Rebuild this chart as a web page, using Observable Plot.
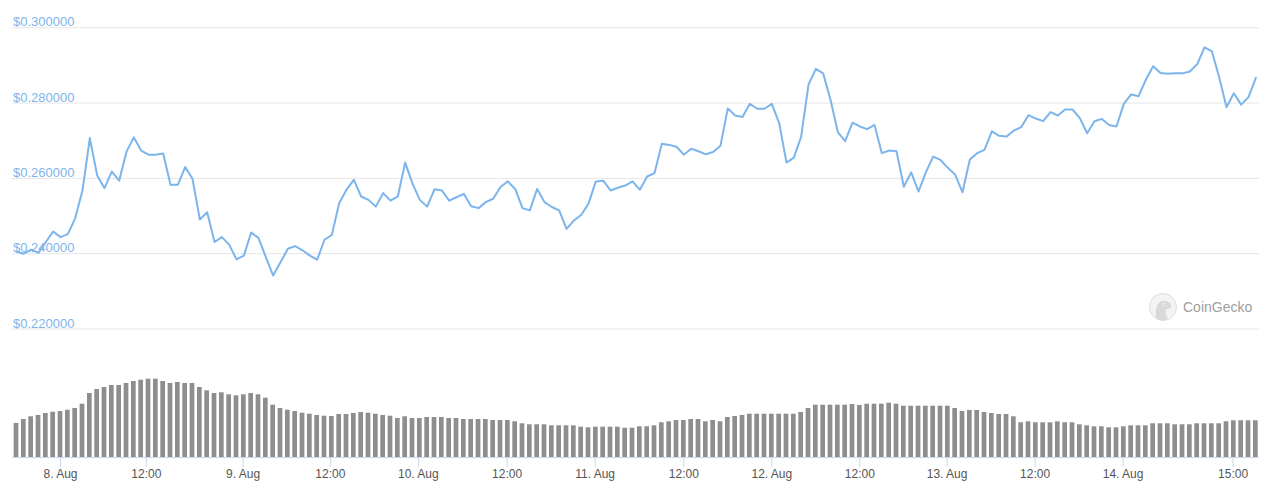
<!DOCTYPE html>
<html>
<head>
<meta charset="utf-8">
<script src="https://cdn.jsdelivr.net/npm/d3@7"></script>
<script src="https://cdn.jsdelivr.net/npm/@observablehq/plot@0.6"></script>
<style>
  html, body { margin: 0; padding: 0; background: #fff; }
  #wrap { position: relative; width: 1280px; height: 490px; overflow: hidden; font-family: "Liberation Sans", Arial, sans-serif; }
  #wrap svg.plot { position: absolute; left: 0; }
  #wm { position: absolute; left: 1148px; top: 292px; }
</style>
</head>
<body>
<div id="wrap"></div>
<script>
// Price (USD), hourly-ish points (ordinal axis)
const price = [
0.2406,0.2400,0.2411,0.2402,0.2431,0.2459,0.2444,0.2452,0.2494,0.2568,
0.2707,0.2608,0.2574,0.2618,0.2594,0.2671,0.2709,0.2674,0.2663,0.2663,
0.2666,0.2583,0.2583,0.2630,0.2599,0.2491,0.2510,0.2431,0.2444,0.2424,
0.2385,0.2395,0.2456,0.2442,0.2391,0.2342,0.2377,0.2413,0.2420,0.2409,
0.2395,0.2384,0.2437,0.2450,0.2534,0.2570,0.2596,0.2552,0.2543,0.2525,
0.2561,0.2541,0.2552,0.2642,0.2586,0.2543,0.2525,0.2571,0.2568,0.2541,
0.2550,0.2559,0.2526,0.2521,0.2537,0.2546,0.2577,0.2592,0.2572,0.2521,
0.2515,0.2572,0.2537,0.2524,0.2515,0.2466,0.2488,0.2503,0.2533,0.2592,
0.2594,0.2568,0.2575,0.2581,0.2592,0.2570,0.2605,0.2614,0.2692,0.2689,
0.2684,0.2663,0.2679,0.2672,0.2664,0.2670,0.2687,0.2786,0.2767,0.2763,
0.2798,0.2785,0.2785,0.2798,0.2747,0.2642,0.2655,0.2711,0.2849,0.2891,
0.2879,0.2809,0.2723,0.2699,0.2748,0.2738,0.2731,0.2742,0.2667,0.2674,
0.2672,0.2578,0.2616,0.2565,0.2616,0.2658,0.2649,0.2628,0.2610,0.2563,
0.2650,0.2667,0.2676,0.2725,0.2713,0.2711,0.2727,0.2736,0.2768,0.2759,
0.2752,0.2776,0.2767,0.2783,0.2783,0.2760,0.2720,0.2752,0.2758,0.2742,
0.2738,0.2798,0.2823,0.2818,0.2862,0.2898,0.2880,0.2878,0.2879,0.2879,
0.2884,0.2903,0.2948,0.2938,0.2869,0.2789,0.2826,0.2796,0.2816,0.2867];

// Volume (relative units), one per price point
const volume = [
34,38,40.7,42,44,45.3,46,47.3,49,53.3,
64,68,70,72,72,74,76,77.3,78.3,78.3,
76,74,75,74,74,70,66.7,64,64.7,62.7,
61.7,62.7,64,62.7,59.3,52.3,49,47.3,46,44.3,
43.3,42,41.3,41,43,43,44,45,44.3,43.3,
42,41.3,39,40.7,39,39,40,40,40,39,
39,38,38,38,38,37,37,37,35.7,33.7,
32.7,32.7,32.7,31.7,31.7,31.7,31.7,30.3,29.7,30.3,
30.3,30.3,30.3,29.3,29.3,30.7,30.7,31.7,34.7,35.7,
37,37,38,38,35.7,37,35.7,40,41,42,
43.3,43.3,43.3,43.3,43.3,43.3,43.3,45,49,52.3,
52.3,52.3,52.3,52.3,53,52,53.3,53.3,53.3,54.3,
53.3,51.3,51.3,51.3,51.3,51.3,51.3,51.3,49,46,
47,47,45,44,43,43,40.7,34.7,35.7,34.7,
34.7,34.7,35.7,34.7,34.7,32.7,31.7,30.7,30.7,29.7,
29.7,30.7,31.7,31.7,31.7,33.7,33.7,33.7,32.7,32.7,
32.7,33.7,33.7,33.7,33.7,35.7,36.7,36.7,36.7,36.7];

// Price axis ticks
const priceTicks = [0.22, 0.24, 0.26, 0.28, 0.30];

// Time axis ticks (positions on the ordinal point index) and labels
const timeTickPos = [6.0, 17.7, 30.9, 42.8, 54.8, 66.9, 78.9, 91.0, 103.0, 115.0, 126.9, 138.9, 150.9, 165.9];
const timeTickLabels = ["8. Aug","12:00","9. Aug","12:00","10. Aug","12:00","11. Aug","12:00","12. Aug","12:00","13. Aug","12:00","14. Aug","15:00"];

const data = price.map((p, i) => ({i, p, v: volume[i]}));
const labelMap = new Map(timeTickPos.map((t, k) => [t, timeTickLabels[k]]));

const W = 1280;
const xDomain = [-0.545, 169.5];
const baseStyle = {fontFamily: "'Liberation Sans', Arial, sans-serif", background: "transparent", overflow: "visible"};

const lineColor = "#7cb5ec";

const priceChart = Plot.plot({
  width: W, height: 340,
  marginLeft: 12, marginRight: 21, marginTop: 27.3, marginBottom: 11.5,
  style: {...baseStyle, fontSize: "13px"},
  x: {domain: xDomain, axis: null},
  y: {domain: [0.22, 0.30], axis: null},
  marks: [
    Plot.ruleY(priceTicks, {stroke: "#e6e6e6", strokeWidth: 1}),
    Plot.text(priceTicks, {y: d => d, frameAnchor: "left", textAnchor: "start", lineAnchor: "bottom", dx: 0.5, dy: -1.5,
      text: d => "$" + d.toFixed(6), fill: "#7cb5ec", fontSize: 13}),
    Plot.line(data, {x: "i", y: "p", stroke: lineColor, strokeWidth: 2, strokeLinejoin: "round", strokeLinecap: "round"})
  ]
});
priceChart.classList.add("plot");
priceChart.style.top = "0px";

const bottomMarks = [
  Plot.rect(data, {x1: d => d.i - 0.32, x2: d => d.i + 0.32, y1: 0, y2: "v", fill: "#8e8e8e"}),
  Plot.ruleY([0], {stroke: "#ccd6eb", strokeWidth: 1})
];
let xOpts = {domain: xDomain};
if (typeof Plot.axisX === "function") {
  bottomMarks.push(Plot.axisX(timeTickPos, {
    tickSize: 10, tickPadding: 2, stroke: "#ccd6eb", fill: "#555", fontSize: 12,
    tickFormat: d => labelMap.get(d), label: null
  }));
} else {
  xOpts = {domain: xDomain, ticks: timeTickPos, tickFormat: d => labelMap.get(d), tickSize: 10, tickPadding: 2, label: null};
}

const volumeChart = Plot.plot({
  width: W, height: 150,
  marginLeft: 12, marginRight: 21, marginTop: 37, marginBottom: 33,
  style: {...baseStyle, fontSize: "12px", color: "#555"},
  x: xOpts,
  y: {domain: [0, 80], axis: null},
  marks: bottomMarks
});
volumeChart.classList.add("plot");
volumeChart.style.top = "340px";

const wrap = document.getElementById("wrap");
wrap.appendChild(priceChart);
wrap.appendChild(volumeChart);

// CoinGecko watermark
const wm = document.createElement("div");
wm.id = "wm";
wm.innerHTML = `<svg width="115" height="32" xmlns="http://www.w3.org/2000/svg">
  <circle cx="15" cy="15" r="13.5" fill="#f4f4f4" stroke="#dedede" stroke-width="1"/>
  <path d="M8 26 C7 18 8 11 14 9 C18 8 22 10 23 13 C24 16 21 17 18 17 C17 20 18 24 20 27 C16 29 11 29 8 26 Z" fill="#d9d9d9"/>
  <circle cx="16" cy="12.5" r="1.6" fill="#fff"/><circle cx="16.3" cy="12.6" r="0.8" fill="#b5b5b5"/>
  <text x="35" y="20" font-family="'Liberation Sans', Arial, sans-serif" font-size="14" fill="#a0a0a0">CoinGecko</text>
</svg>`;
wrap.appendChild(wm);
</script>
</body>
</html>
